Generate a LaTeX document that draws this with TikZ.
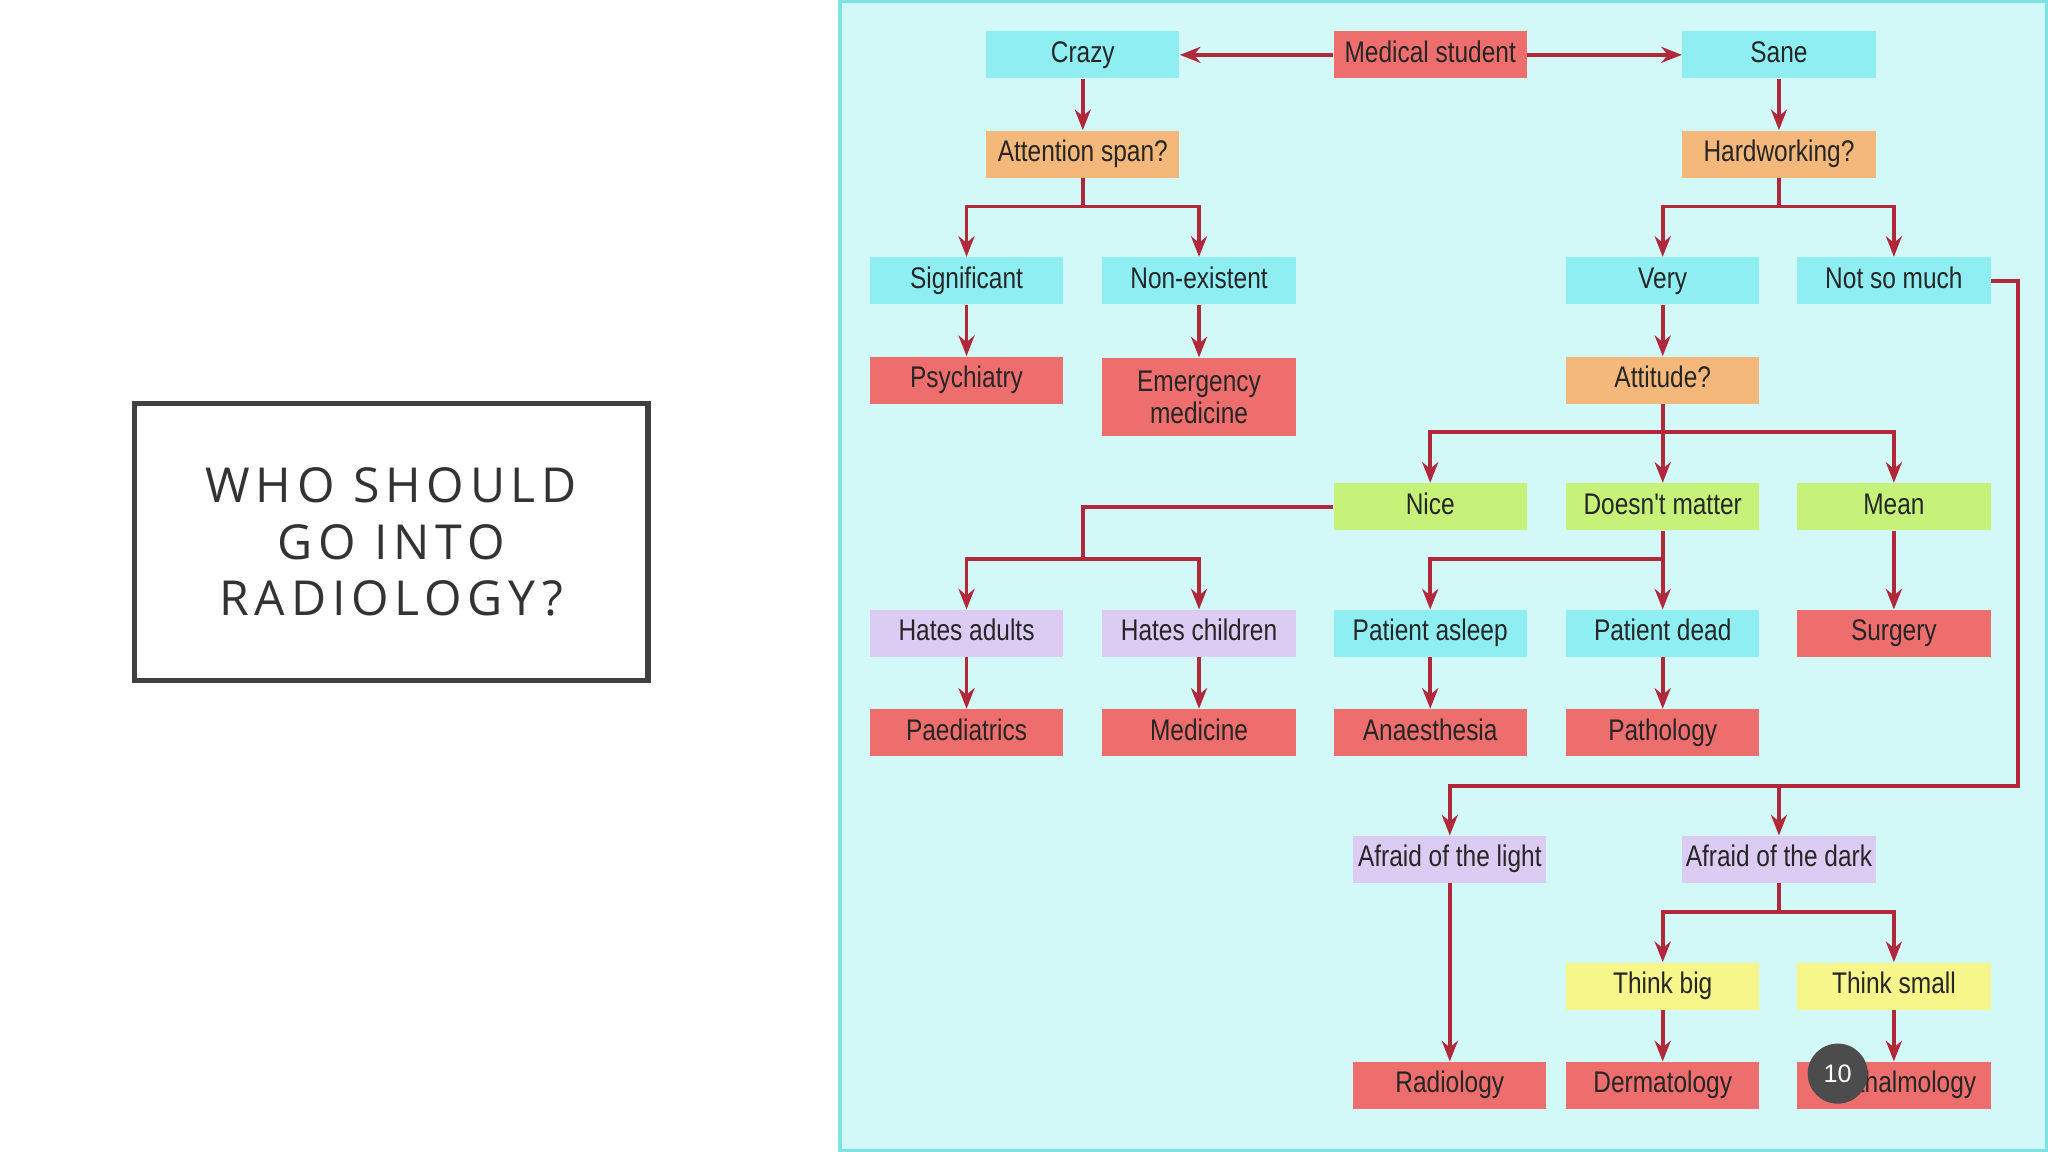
\documentclass[tikz,border=0pt]{standalone}
\usepackage{fontspec}
\setmainfont{Liberation Sans}
\newfontfamily\nodefont[FakeStretch=0.82]{Liberation Sans}
\newfontfamily\titlefont[LetterSpace=12]{Open Sans}
\usetikzlibrary{arrows.meta,calc}
\definecolor{panel}{HTML}{D2F8F8}
\definecolor{panelb}{HTML}{7FE3E3}
\definecolor{cbox}{HTML}{8EEEF2}
\definecolor{rbox}{HTML}{EE6E6E}
\definecolor{obox}{HTML}{F4B97A}
\definecolor{gbox}{HTML}{C6F27A}
\definecolor{lbox}{HTML}{DCCBF3}
\definecolor{ybox}{HTML}{F6F68A}
\definecolor{lnk}{HTML}{B0283A}
\tikzset{
 bx/.style={minimum width=148*0.02cm,minimum height=36*0.02cm,inner sep=1pt,align=center,
   text height=9.5pt,text depth=3pt,
   font=\nodefont\fontsize{13}{14}\selectfont,text=black!85},
 cy/.style={bx,fill=cbox},
 rd/.style={bx,fill=rbox},
 og/.style={bx,fill=obox},
 gr/.style={bx,fill=gbox},
 lv/.style={bx,fill=lbox},
 yl/.style={bx,fill=ybox},
 ln/.style={draw=lnk,line width=1.6pt},
 ar/.style={ln,-{Stealth[length=9pt,width=7pt]}}
}
\begin{document}
\begin{tikzpicture}[x=0.02cm,y=-0.02cm]
\useasboundingbox (0,0) rectangle (1568,882);
\fill[white] (0,0) rectangle (1568,882);
\draw[fill=panel,draw=panelb,line width=1.5pt] (643,1) rectangle (1567,881);
\node[draw=black!75,line width=2.5pt,minimum width=393*0.02cm,minimum height=212*0.02cm,
  align=center,font=\titlefont\fontsize{21}{24.5}\selectfont,text=black!80] (title) at (299.5,415) {WHO SHOULD\\GO INTO\\RADIOLOGY?};
% nodes
\node[cy] (crazy) at (829,42) {Crazy};
\node[rd] (med) at (1095,42) {Medical student};
\node[cy] (sane) at (1362,42) {Sane};
\node[og] (att) at (829,118) {Attention span?};
\node[og] (hard) at (1362,118) {Hardworking?};
\node[cy] (sig) at (740,215) {Significant};
\node[cy] (non) at (918,215) {Non-existent};
\node[cy] (very) at (1273,215) {Very};
\node[cy] (notso) at (1450,215) {Not so much};
\node[rd] (psy) at (740,291) {Psychiatry};
\node[rd,minimum height=60*0.02cm,text height=,text depth=] (emer) at (918,304) {Emergency\\medicine};
\node[og] (attd) at (1273,291) {Attitude?};
\node[gr] (nice) at (1095,388) {Nice};
\node[gr] (dm) at (1273,388) {Doesn't matter};
\node[gr] (mean) at (1450,388) {Mean};
\node[lv] (ha) at (740,485) {Hates adults};
\node[lv] (hc) at (918,485) {Hates children};
\node[cy] (pa) at (1095,485) {Patient asleep};
\node[cy] (pd) at (1273,485) {Patient dead};
\node[rd] (surg) at (1450,485) {Surgery};
\node[rd] (paed) at (740,561) {Paediatrics};
\node[rd] (medi) at (918,561) {Medicine};
\node[rd] (anae) at (1095,561) {Anaesthesia};
\node[rd] (path) at (1273,561) {Pathology};
\node[lv] (light) at (1110,658) {Afraid of the light};
\node[lv] (dark) at (1362,658) {Afraid of the dark};
\node[yl] (big) at (1273,755) {Think big};
\node[yl] (small) at (1450,755) {Think small};
\node[rd] (radi) at (1110,831) {Radiology};
\node[rd] (derm) at (1273,831) {Dermatology};
\node[rd] (oph) at (1450,831) {Ophthalmology};
% connectors
\draw[ar] (med) -- (crazy);
\draw[ar] (med) -- (sane);
\draw[ar] (crazy) -- (att);
\draw[ar] (sane) -- (hard);
\coordinate (a1) at (829,158);
\draw[ln] (att) -- (a1);
\draw[ar] (a1) -| (sig);
\draw[ar] (a1) -| (non);
\coordinate (h1) at (1362,158);
\draw[ln] (hard) -- (h1);
\draw[ar] (h1) -| (very);
\draw[ar] (h1) -| (notso);
\draw[ar] (sig) -- (psy);
\draw[ar] (non) -- (emer);
\draw[ar] (very) -- (attd);
\coordinate (t1) at (1273,331);
\draw[ln] (attd) -- (t1);
\draw[ar] (t1) -| (nice);
\draw[ar] (t1) -- (dm);
\draw[ar] (t1) -| (mean);
\coordinate (n1) at (829,388);
\coordinate (n2) at (829,428);
\draw[ln] (nice.west) -- (n1) -- (n2);
\draw[ar] (n2) -| (ha);
\draw[ar] (n2) -| (hc);
\coordinate (d1) at (1273,428);
\draw[ar] (dm) -- (pd);
\draw[ar] (d1) -| (pa);
\draw[ar] (mean) -- (surg);
\draw[ar] (ha) -- (paed);
\draw[ar] (hc) -- (medi);
\draw[ar] (pa) -- (anae);
\draw[ar] (pd) -- (path);
\coordinate (s1) at (1545,215);
\coordinate (s2) at (1545,602);
\coordinate (s3) at (1362,602);
\draw[ln] (notso.east) -- (s1) -- (s2) -- (s3);
\draw[ar] (s3) -| (light);
\draw[ar] (s3) -- (dark);
\draw[ar] (light) -- (radi);
\coordinate (k1) at (1362,698);
\draw[ln] (dark) -- (k1);
\draw[ar] (k1) -| (big);
\draw[ar] (k1) -| (small);
\draw[ar] (big) -- (derm);
\draw[ar] (small) -- (oph);
\node[circle,fill=black!70,minimum size=46*0.02cm,inner sep=0pt,text=white,font=\fontsize{11}{12}\selectfont] (pg) at (1407,822) {10};
\end{tikzpicture}
\end{document}
